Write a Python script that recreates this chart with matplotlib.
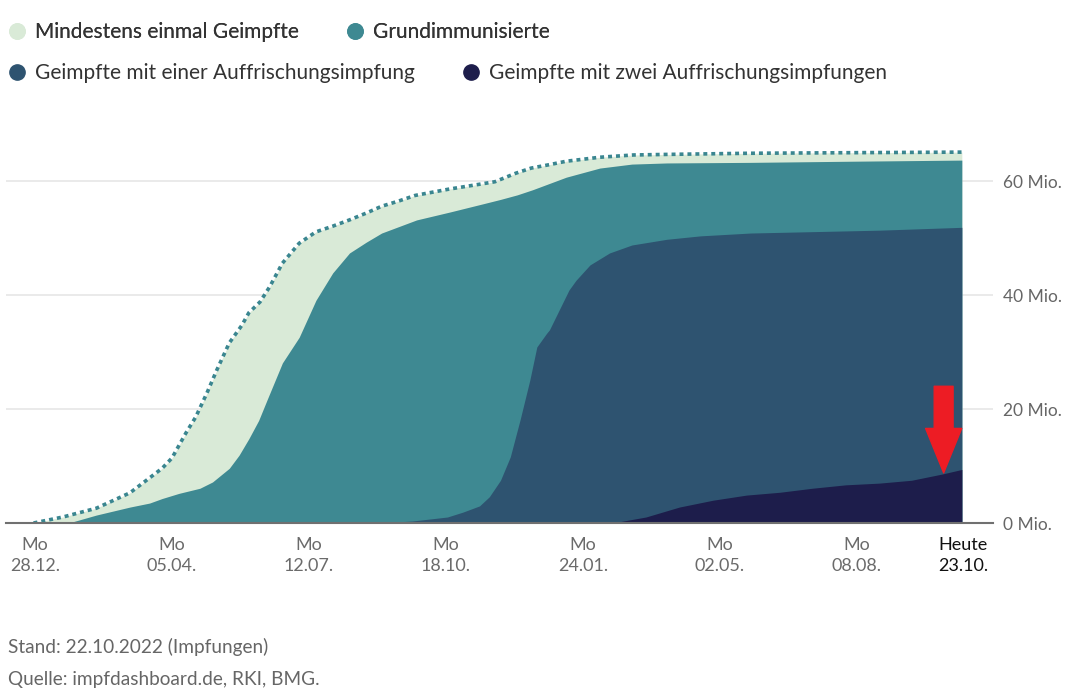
import pandas as pd
import matplotlib.pyplot as plt

plt.rcParams['font.family'] = ['Lato', 'DejaVu Sans']

# Mindestens einmal Geimpfte (Mio.)
erst_dates = ['2020-12-27', '2021-01-17', '2021-02-10', '2021-03-06', '2021-03-29', '2021-04-05',
              '2021-04-15', '2021-04-22', '2021-04-30', '2021-05-07', '2021-05-16', '2021-05-25',
              '2021-05-30', '2021-06-07', '2021-06-14', '2021-06-23', '2021-07-05', '2021-07-17',
              '2021-07-29', '2021-08-10', '2021-08-22', '2021-09-02', '2021-09-14', '2021-09-26',
              '2021-10-20', '2021-11-12', '2021-11-22', '2021-12-07', '2021-12-18', '2021-12-31',
              '2022-01-12', '2022-02-05', '2022-03-01', '2022-03-25', '2022-05-23', '2022-08-03',
              '2022-10-22']
erst = [0, 1.05, 2.6, 5.3, 9.6, 11.4, 15.8, 18.6, 22.8, 26.8, 31.6, 34.7, 36.9, 38.8, 41.5, 45.6,
        49.1, 51.1, 52.1, 53.2, 54.4, 55.6, 56.5, 57.5, 58.6, 59.5, 59.9, 61.4, 62.3, 62.9, 63.5,
        64.2, 64.6, 64.7, 64.9, 65.0, 65.1]

# Grundimmunisierte (Mio.)
grund_dates = ['2021-01-21', '2021-02-10', '2021-03-06', '2021-03-20', '2021-03-29', '2021-04-10',
               '2021-04-25', '2021-05-04', '2021-05-16', '2021-05-23', '2021-05-30', '2021-06-06',
               '2021-06-12', '2021-06-23', '2021-07-05', '2021-07-17', '2021-07-29', '2021-08-10',
               '2021-08-22', '2021-09-02', '2021-09-27', '2021-10-21', '2021-11-13', '2021-11-26',
               '2021-12-08', '2021-12-19', '2021-12-31', '2022-01-12', '2022-02-05', '2022-02-28',
               '2022-03-25', '2022-05-23', '2022-08-03', '2022-10-22']
grund = [0, 1.4, 2.8, 3.5, 4.3, 5.2, 6.1, 7.2, 9.6, 11.9, 14.8, 18.0, 21.6, 28.1, 32.6, 39.1,
         43.9, 47.4, 49.3, 50.9, 53.2, 54.6, 56.0, 56.8, 57.6, 58.5, 59.6, 60.7, 62.3, 63.0,
         63.2, 63.3, 63.5, 63.7]

# Geimpfte mit einer Auffrischungsimpfung (Mio.)
boost1_dates = ['2021-08-31', '2021-09-24', '2021-10-19', '2021-10-30', '2021-11-11', '2021-11-18',
                '2021-11-26', '2021-12-03', '2021-12-10', '2021-12-17', '2021-12-22', '2021-12-29',
                '2021-12-31', '2022-01-07', '2022-01-14', '2022-01-19', '2022-01-29', '2022-02-12',
                '2022-02-28', '2022-03-25', '2022-04-18', '2022-05-24', '2022-08-24', '2022-10-22']
boost1 = [0, 0.35, 1.05, 1.9, 3.0, 4.6, 7.5, 11.6, 18.1, 25.1, 30.9, 33.3, 33.9, 37.4, 40.9,
          42.6, 45.3, 47.4, 48.8, 49.8, 50.4, 50.9, 51.4, 51.9]

# Geimpfte mit zwei Auffrischungsimpfungen (Mio.)
boost2_dates = ['2022-02-14', '2022-03-10', '2022-04-03', '2022-04-27', '2022-05-21', '2022-06-14',
                '2022-07-07', '2022-07-31', '2022-08-24', '2022-09-16', '2022-10-08', '2022-10-22']
boost2 = [0, 1.05, 2.8, 4.0, 4.9, 5.4, 6.1, 6.7, 7.0, 7.5, 8.6, 9.4]

labels = ['Mindestens einmal Geimpfte', 'Grundimmunisierte',
          'Geimpfte mit einer Auffrischungsimpfung', 'Geimpfte mit zwei Auffrischungsimpfungen']
colors = ['#d9ead7', '#3e8992', '#2e5370', '#1d1d4b']

tick_dates = ['2020-12-28', '2021-04-05', '2021-07-12', '2021-10-18', '2022-01-24',
              '2022-05-02', '2022-08-08', '2022-10-23']
tick_labels = ['Mo\n28.12.', 'Mo\n05.04.', 'Mo\n12.07.', 'Mo\n18.10.', 'Mo\n24.01.',
               'Mo\n02.05.', 'Mo\n08.08.', 'Heute\n23.10.']

yticks = [0, 20, 40, 60]

fig = plt.figure(figsize=(10.68, 6.98), dpi=100)
ax = fig.add_axes([6 / 1068, 175 / 698, 987 / 1068, 376 / 698])

series = [(erst_dates, erst), (grund_dates, grund), (boost1_dates, boost1), (boost2_dates, boost2)]
for (d, v), c in zip(series, colors):
    ax.fill_between(pd.to_datetime(d), 0, v, color=c, linewidth=0, zorder=2)
ax.plot(pd.to_datetime(erst_dates), erst, color='#3a8690', lw=2.6,
        linestyle=(0, (1.1, 1.1)), zorder=3)

# Pfeil auf den aktuellen Wert der zweiten Auffrischung
tip = pd.Timestamp('2022-10-09')
ax.annotate('', xy=(tip, 8.8), xytext=(tip, 24.0),
            arrowprops=dict(arrowstyle='simple,head_length=1.6,head_width=1.3,tail_width=0.68',
                            color='#ed1c24', shrinkA=0, shrinkB=0, mutation_scale=20), zorder=5)

start = pd.Timestamp('2020-12-28')
ax.set_xlim(start - pd.Timedelta(days=20.7), start + pd.Timedelta(days=685.3))
ax.set_ylim(0, 66)

ax.set_yticks(yticks)
ax.set_yticklabels([f'{v} Mio.' for v in yticks])
ax.yaxis.tick_right()
ax.tick_params(axis='y', length=0, pad=7, labelsize=12.5, labelcolor='#666666')
ax.grid(axis='y', color='#e6e6e6', lw=1.2, zorder=0)

ax.set_xticks(pd.to_datetime(tick_dates))
ax.set_xticklabels(tick_labels, linespacing=1.4)
ax.tick_params(axis='x', length=0, pad=10, labelsize=13, labelcolor='#6b6b6b')
ax.get_xticklabels()[-1].set_color('#111111')

for s in ['top', 'right', 'left']:
    ax.spines[s].set_visible(False)
ax.spines['bottom'].set_color('#707070')
ax.spines['bottom'].set_linewidth(1.5)
ax.spines['bottom'].set_zorder(4)

# Legende in zwei Zeilen
handles = [plt.Line2D([], [], marker='o', ls='', ms=11, mfc=c, mec=c) for c in colors]
leg_kw = dict(ncol=2, frameon=False, fontsize=15, handletextpad=0.35, handlelength=1.0,
              columnspacing=2.2, borderaxespad=0, borderpad=0, labelcolor='#333333')
leg1 = fig.legend(handles[:2], labels[:2], loc='center left',
                  bbox_to_anchor=(6.6 / 1068, 1 - 32 / 698), **leg_kw)
fig.add_artist(leg1)
fig.legend(handles[2:], labels[2:], loc='center left',
           bbox_to_anchor=(6.6 / 1068, 1 - 73 / 698), **leg_kw)

fig.text(8 / 1068, 1 - 647 / 698, 'Stand: 22.10.2022 (Impfungen)', fontsize=13.7,
         color='#666666', va='center')
fig.text(8 / 1068, 1 - 679 / 698, 'Quelle: impfdashboard.de, RKI, BMG.', fontsize=13.7,
         color='#666666', va='center')

fig.savefig('out.png', dpi=100)
plt.close(fig)
